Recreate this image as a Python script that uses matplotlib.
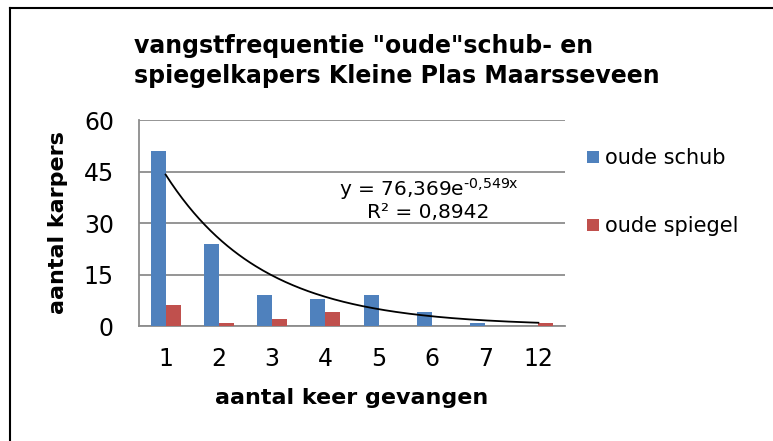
import matplotlib.pyplot as plt
import numpy as np

categories = ['1', '2', '3', '4', '5', '6', '7', '12']
oude_schub = [51, 24, 9, 8, 9, 4, 1, 0]
oude_spiegel = [6, 1, 2, 4, 0, 0, 0, 1]
# exponential trendline from the chart: y = a * e^(b*x)
trend_a = 76.369
trend_b = -0.549
yticks = [0, 15, 30, 45, 60]

blue = '#4F81BD'
red = '#C0504D'

fig = plt.figure(figsize=(7.73, 4.41), dpi=100)
ax = fig.add_axes([139 / 773, 1 - 326 / 441, 426 / 773, 206 / 441])

x = np.arange(len(categories))
w = 0.28
ax.bar(x - w / 2, oude_schub, w, color=blue, label='oude schub', zorder=3)
ax.bar(x + w / 2, oude_spiegel, w, color=red, label='oude spiegel', zorder=3)

# trendline over category positions 1..n
xt = np.linspace(1, len(categories), 200)
ax.plot(xt - 1, trend_a * np.exp(trend_b * xt), color='black', lw=1.3, zorder=4)

ax.set_xlim(-0.5, len(categories) - 0.5)
ax.set_ylim(0, 60)
ax.set_yticks(yticks)
ax.set_xticks(x)
ax.set_xticklabels(categories)
ax.tick_params(axis='both', length=0, labelsize=17, colors='black')
ax.tick_params(axis='y', pad=18)
ax.tick_params(axis='x', pad=15)
ax.grid(axis='y', color='#8c8c8c', lw=1.3, zorder=0)
for s in ['top', 'right']:
    ax.spines[s].set_visible(False)
for s in ['left', 'bottom']:
    ax.spines[s].set_color('#8c8c8c')
    ax.spines[s].set_linewidth(1.3)

ax.set_xlabel('aantal keer gevangen', fontsize=16, fontweight='bold', labelpad=12)
ax.set_ylabel('aantal karpers', fontsize=16, fontweight='bold', labelpad=11)

ax.text(0.68, 0.615, 'y = 76,369e$^{\\text{-0,549x}}$\nR² = 0,8942', transform=ax.transAxes,
        ha='center', va='center', fontsize=14.5, linespacing=1.05)

fig.text(134 / 773, 1 - 61 / 441, 'vangstfrequentie "oude"schub- en\nspiegelkapers Kleine Plas Maarsseveen',
         ha='left', va='center', fontsize=17, fontweight='bold', linespacing=1.27)

leg = fig.legend(loc='upper left', bbox_to_anchor=(579 / 773, 1 - 140 / 441), frameon=False,
                 fontsize=15, handlelength=0.55, handleheight=0.55, handletextpad=0.3,
                 labelspacing=2.3, borderaxespad=0)

# outer chart border (only left/top visible in the crop)
fig.add_artist(plt.Line2D([9.5 / 773, 9.5 / 773], [0, 1 - 8 / 441], color='black', lw=1.5))
fig.add_artist(plt.Line2D([9.5 / 773, 1], [1 - 8 / 441, 1 - 8 / 441], color='black', lw=1.5))

fig.savefig('out.png', dpi=100)
